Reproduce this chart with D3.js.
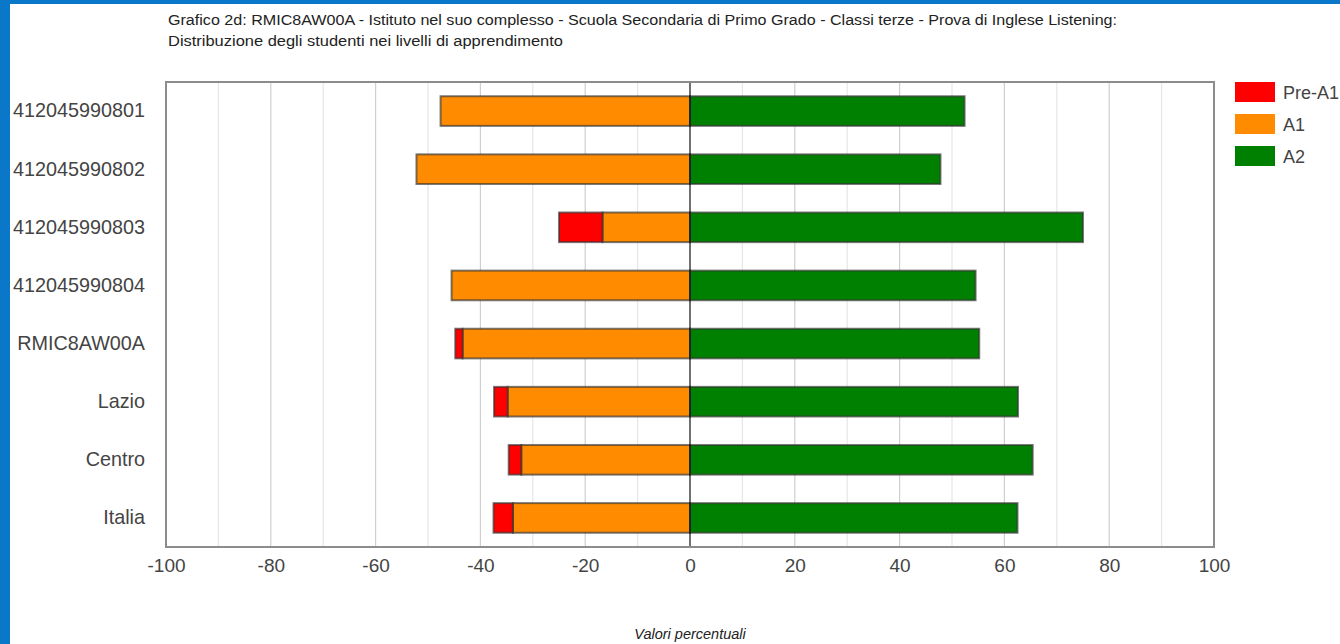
<!DOCTYPE html>
<html>
<head>
<meta charset="utf-8">
<script src="https://cdn.jsdelivr.net/npm/d3@7"></script>
<style>
  html, body { margin: 0; padding: 0; background: #fff; }
  svg { position: absolute; left: 0; top: 0; }
  text { font-family: "Liberation Sans", Arial, sans-serif; }
</style>
</head>
<body>
<script>
const categories = ["412045990801", "412045990802", "412045990803", "412045990804", "RMIC8AW00A", "Lazio", "Centro", "Italia"];
const preA1 = [0, 0, 8.3, 0, 1.4, 2.6, 2.4, 3.7];
const a1 = [47.6, 52.2, 16.7, 45.5, 43.4, 34.8, 32.2, 33.8];
const a2 = [52.4, 47.8, 75.0, 54.5, 55.2, 62.6, 65.4, 62.5];
const seriesNames = ["Pre-A1", "A1", "A2"];
const seriesColors = ["#ff0000", "#ff8c00", "#008000"];
const xTicks = [-100, -80, -60, -40, -20, 0, 20, 40, 60, 80, 100];
const gridValues = [-90, -80, -70, -60, -50, -40, -30, -20, -10, 10, 20, 30, 40, 50, 60, 70, 80, 90];
const titleLines = ["Grafico 2d: RMIC8AW00A - Istituto nel suo complesso - Scuola Secondaria di Primo Grado - Classi terze - Prova di Inglese Listening:", "Distribuzione degli studenti nei livelli di apprendimento"];
const axisTitle = "Valori percentuali";

const svg = d3.select("body").append("svg").attr("width", 1340).attr("height", 644);

const L = 166, R = 1214, T = 82, B = 547;
const x = d3.scaleLinear().domain([-100, 100]).range([L, R]);
const y = d3.scaleBand().domain(categories).range([T, B]).paddingInner(0.49).paddingOuter(0.245);

// title
const titleWidths = [949, 395];
svg.append("g").selectAll("text").data(titleLines).join("text")
  .attr("x", 168).attr("y", (d, i) => 25 + i * 21)
  .attr("font-size", 14).attr("fill", "#222")
  .attr("textLength", (d, i) => titleWidths[i]).attr("lengthAdjust", "spacingAndGlyphs")
  .text(d => d);

// grid
svg.append("g").selectAll("line").data(gridValues).join("line")
  .attr("x1", d => x(d)).attr("x2", d => x(d)).attr("y1", T).attr("y2", B)
  .attr("stroke", d => d % 20 === 0 ? "#cfcfcf" : "#e6e6e6").attr("stroke-width", 1.2);

// bars
const rows = categories.map((c, i) => ({ c, pre: preA1[i], a1: a1[i], a2: a2[i] }));
const segs = [];
rows.forEach(r => {
  segs.push({ c: r.c, x0: -r.a1, x1: 0, col: seriesColors[1] });
  if (r.pre > 0) segs.push({ c: r.c, x0: -(r.a1 + r.pre), x1: -r.a1, col: seriesColors[0] });
  segs.push({ c: r.c, x0: 0, x1: r.a2, col: seriesColors[2] });
});
svg.append("g").selectAll("rect").data(segs).join("rect")
  .attr("x", d => x(d.x0)).attr("width", d => x(d.x1) - x(d.x0))
  .attr("y", d => y(d.c)).attr("height", y.bandwidth())
  .attr("fill", d => d.col)
  .attr("stroke", "rgba(50,50,50,0.65)").attr("stroke-width", 2);

// zero line
svg.append("line").attr("x1", x(0)).attr("x2", x(0)).attr("y1", T).attr("y2", B)
  .attr("stroke", "#111").attr("stroke-width", 1.2);

// plot border
svg.append("rect").attr("x", L).attr("y", T).attr("width", R - L).attr("height", B - T)
  .attr("fill", "none").attr("stroke", "#8c8c8c").attr("stroke-width", 2);

// x axis
const xa = svg.append("g").attr("transform", `translate(0,${B})`)
  .call(d3.axisBottom(x).tickValues(xTicks).tickSize(0).tickPadding(12).tickFormat(d => String(d)));
xa.select(".domain").remove();
xa.selectAll("text").attr("font-size", 19).attr("fill", "#444")
  .style("font-family", '"Liberation Sans", Arial, sans-serif');

// y axis
const ya = svg.append("g").attr("transform", `translate(${L},0)`)
  .call(d3.axisLeft(y).tickSize(0).tickPadding(21));
ya.select(".domain").remove();
ya.selectAll("text").attr("font-size", 19.8).attr("fill", "#444")
  .style("font-family", '"Liberation Sans", Arial, sans-serif');

// axis title
svg.append("text").attr("x", x(0)).attr("y", 639).attr("text-anchor", "middle")
  .attr("font-size", 14.5).attr("font-style", "italic").attr("fill", "#222").text(axisTitle);

// legend
const lg = svg.append("g").selectAll("g").data(seriesNames).join("g")
  .attr("transform", (d, i) => `translate(1235,${82 + i * 32})`);
lg.append("rect").attr("width", 40).attr("height", 20).attr("fill", (d, i) => seriesColors[i]);
lg.append("text").attr("x", 48).attr("y", 17).attr("font-size", 18).attr("fill", "#444").text(d => d);

// blue frame
svg.append("rect").attr("x", 0).attr("y", 0).attr("width", 10).attr("height", 644).attr("fill", "#0b77c9");
svg.append("rect").attr("x", 0).attr("y", 0).attr("width", 1340).attr("height", 4).attr("fill", "#0b77c9");
</script>
</body>
</html>
